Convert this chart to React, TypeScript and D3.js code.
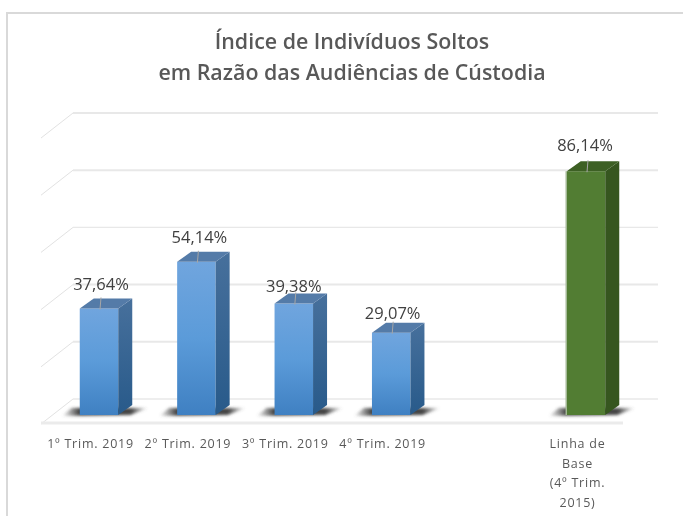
import React from "react";
import * as d3 from "d3";

const categories = ["1º Trim. 2019", "2º Trim. 2019", "3º Trim. 2019", "4º Trim. 2019", "", "Linha de|Base|(4º Trim.|2015)"];
const values = [37.64, 54.14, 39.38, 29.07, null, 86.14];
const labels = ["37,64%", "54,14%", "39,38%", "29,07%", "", "86,14%"];
const gridTicks = [0, 20, 40, 60, 80, 100];
const titleLines = ["Índice de Indivíduos Soltos", "em Razão das Audiências de Cústodia"];

const W = 683, H = 516;
const DX = 14, DY = 10;
const x = d3.scaleBand<string>().domain(categories).range([50.3, 634.7]);
const y = d3.scaleLinear().domain([0, 100]).range([415, 132]);
const wallY = d3.scaleLinear().domain([0, 100]).range([399, 113]);
const BW = 38.5;
const FONT = "'Open Sans', sans-serif";
const labelGap = [18, 19, 12, 14, 0, 20];
const labelShift = [2, 3, 0, 1.5, 0, -1];
const wallWidth = [1.5, 2, 2, 1.2, 2, 2.2];

export default function App() {
  const fmt = d3.line();
  return (
    <svg width={W} height={H} style={{ position: "absolute", left: 0, top: 0, background: "#fff" }}>
      <defs>
        <linearGradient id="front" x1="0" y1="0" x2="0" y2="1">
          <stop offset="0" stopColor="#70a5de" />
          <stop offset="0.5" stopColor="#5b9bd9" />
          <stop offset="1" stopColor="#3f80c2" />
        </linearGradient>
        <linearGradient id="side" x1="0" y1="0" x2="0" y2="1">
          <stop offset="0" stopColor="#47709c" />
          <stop offset="1" stopColor="#285a8a" />
        </linearGradient>
        <linearGradient id="shade" x1="0" y1="0" x2="1" y2="0">
          <stop offset="0" stopColor="#555" stopOpacity="0" />
          <stop offset="0.2" stopColor="#444" />
          <stop offset="0.8" stopColor="#444" />
          <stop offset="1" stopColor="#555" stopOpacity="0" />
        </linearGradient>
        <filter id="soft" x="-20%" y="-20%" width="140%" height="140%"><feGaussianBlur stdDeviation="0.6" /></filter>
        <filter id="sh" x="-30%" y="-200%" width="160%" height="500%"><feGaussianBlur stdDeviation="1.5" /></filter>
      </defs>
      <path d={`M7,516V13H683`} fill="none" stroke="#d9d9d9" strokeWidth={2} />
      {gridTicks.map((t, i) => (
        <g key={t}>
          <line x1={41} y1={wallY(t) + 25} x2={73} y2={wallY(t)} stroke="#e2e2e2" strokeWidth={1} />
          <path fill="none" stroke="#e8e8e8" strokeWidth={wallWidth[i]}
            d={fmt([[73, wallY(t)], [658, wallY(t)]]) as string} />
        </g>
      ))}
      <line x1={41} x2={623} y1={423} y2={423} stroke="#ebebeb" strokeWidth={3} />
      {categories.map((c, i) => {
        const v = values[i];
        const cx = (x(c) as number) + x.bandwidth() / 2;
        const green = i === 5;
        const l = cx - BW / 2, r = cx + BW / 2;
        return (
          <g key={i}>
            {v !== null && (
              <g>
                <path filter="url(#sh)" fill="url(#shade)" d={`M${l - 18},416 L${l - 8},408 H${r + 30} L${r + 12},415 Z`} />
                <rect x={l} y={y(v)} width={BW} height={415 - y(v)} fill={green ? "#527d33" : "url(#front)"} />
                {green && <line x1={l - 0.5} x2={l - 0.5} y1={y(v)} y2={415} stroke="#a3b895" strokeWidth={1.5} />}
                <path fill={green ? "#36561f" : "url(#side)"} d={`M${r},${y(v)} L${r + DX},${y(v) - DY} V${415 - DY} L${r},415 Z`} />
                <path fill={green ? "#3d6024" : "#547ba8"} d={`M${l},${y(v)} L${l + DX},${y(v) - DY} H${r + DX} L${r},${y(v)} Z`} />
                <line x1={cx + 2} x2={cx + 1} y1={y(v) - 11} y2={y(v) + 1} stroke="#a6a6a6" strokeWidth={1} />
                <text filter="url(#soft)" x={cx + labelShift[i]} y={y(v) - labelGap[i]} textAnchor="middle" fontFamily={FONT} fontSize={16.5} fill="#404040">{labels[i]}</text>
              </g>
            )}
            {c.split("|").map((t, k) => (
              <text key={k} filter="url(#soft)" x={cx - 8.5} y={448 + k * 19.5} textAnchor="middle" fontFamily={FONT} fontSize={12.5} letterSpacing={0.75} fill="#595959">{t}</text>
            ))}
          </g>
        );
      })}
      {titleLines.map((t, i) => (
        <text key={i} filter="url(#soft)" x={352} y={49 + i * 31} textAnchor="middle" fontFamily={FONT} fontWeight={600} fontSize={21.4} fill="#595959">{t}</text>
      ))}
    </svg>
  );
}
